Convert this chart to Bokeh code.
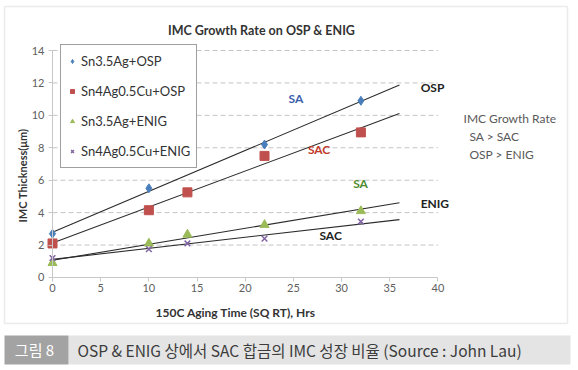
import numpy as np
from bokeh.plotting import figure
from bokeh.models import Range1d, FixedTicker, Label, BoxAnnotation, Legend, LegendItem
from bokeh.embed import file_html
from bokeh.resources import INLINE

# ---------------- data ----------------
title_text = "IMC Growth Rate on OSP & ENIG"
x_title = "150C Aging Time (SQ RT), Hrs"
y_title = "IMC Thickness(μm)"

series_names = ["Sn3.5Ag+OSP", "Sn4Ag0.5Cu+OSP", "Sn3.5Ag+ENIG", "Sn4Ag0.5Cu+ENIG"]
sa_osp_x = [0, 10, 22, 32]
sa_osp_y = [2.7, 5.5, 8.2, 10.9]
sac_osp_x = [0, 10, 14, 22, 32]
sac_osp_y = [2.1, 4.15, 5.25, 7.5, 8.95]
sa_enig_x = [0, 10, 14, 22, 32]
sa_enig_y = [0.9, 2.1, 2.65, 3.25, 4.1]
sac_enig_x = [0, 10, 14, 22, 32]
sac_enig_y = [1.2, 1.75, 2.1, 2.4, 3.45]
trend_start = 0
trend_end = 36

x_ticks = [0, 5, 10, 15, 20, 25, 30, 35, 40]
y_ticks = [0, 2, 4, 6, 8, 10, 12, 14]
grid_levels = [2, 4, 6, 8, 10, 12, 14]

line_labels = ["OSP", "ENIG", "SAC"]
side_notes = ["IMC Growth Rate", "SA > SAC", "OSP > ENIG"]
caption_tag = "그림 8"
caption_text = "OSP & ENIG 상에서 SAC 합금의 IMC 성장 비율 (Source : John Lau)"

# ---------------- figure ----------------
FONT = "Lato"
p = figure(width=578, height=370, output_backend="svg", toolbar_location=None,
           x_range=Range1d(-5.396, 54.58), y_range=Range1d(-5.736, 17.084),
           min_border=0)
p.outline_line_color = None
p.background_fill_color = "white"
p.border_fill_color = "white"
p.xgrid.visible = False
p.ygrid.visible = False

# axes (drawn at x = 0 / y = 0 inside the frame)
xa = p.xaxis[0]
xa.fixed_location = 0
xa.ticker = FixedTicker(ticks=x_ticks)
xa.bounds = (0, 40)
xa.axis_line_color = "#c8c8c8"
xa.major_tick_line_color = "#c8c8c8"
xa.major_tick_out = 4
xa.major_tick_in = 0
xa.minor_tick_line_color = None
xa.major_label_text_font = FONT
xa.major_label_text_font_size = "11px"
xa.major_label_text_color = "#606060"
xa.major_label_standoff = 3

ya = p.yaxis[0]
ya.fixed_location = 0
ya.ticker = FixedTicker(ticks=y_ticks)
ya.bounds = (0, 14)
ya.axis_line_color = "#c8c8c8"
ya.major_tick_line_color = "#c8c8c8"
ya.major_tick_out = 4
ya.major_tick_in = 0
ya.minor_tick_line_color = None
ya.major_label_text_font = FONT
ya.major_label_text_font_size = "11px"
ya.major_label_text_color = "#606060"
ya.major_label_standoff = 4

# dashed horizontal grid lines up to x = 40
p.segment(x0=[x_ticks[0]] * len(grid_levels), y0=grid_levels,
          x1=[x_ticks[-1]] * len(grid_levels), y1=grid_levels,
          line_color="#c4c4c4", line_width=1, line_dash="5 3")

# trend lines (least-squares fits)
tx = np.array([trend_start, trend_end], dtype=float)
for xs, ys in [(sa_osp_x, sa_osp_y), (sac_osp_x, sac_osp_y), (sa_enig_x, sa_enig_y), (sac_enig_x, sac_enig_y)]:
    k, b = np.polyfit(xs, ys, 1)
    p.line(tx, k * tx + b, line_color="#2b2b2b", line_width=1.1)

r1 = p.scatter(sa_osp_x, sa_osp_y, marker="diamond", size=9, fill_color="#4a7ebb", line_color="#4a7ebb")
r2 = p.scatter(sac_osp_x, sac_osp_y, marker="square", size=9, fill_color="#c0504d", line_color="#c0504d")
r3 = p.scatter(sa_enig_x, sa_enig_y, marker="triangle", size=9, fill_color="#9bbb59", line_color="#9bbb59")
r4 = p.scatter(sac_enig_x, sac_enig_y, marker="x", size=8, line_color="#8064a2", line_width=1.5)

legend = Legend(items=[LegendItem(label=series_names[i], renderers=[r]) for i, r in enumerate([r1, r2, r3, r4])],
                location=(60, 202), orientation="vertical")
legend.margin = 0
legend.padding = 6
legend.spacing = 10
legend.glyph_height = 20
legend.glyph_width = 10
legend.label_height = 20
legend.label_standoff = 4
legend.label_text_font = FONT
legend.label_text_font_size = "13px"
legend.label_text_color = "#333333"
legend.border_line_color = "#404040"
legend.border_line_width = 1
legend.background_fill_color = "white"
legend.background_fill_alpha = 1
p.add_layout(legend, "center")

def lab(text, x, y, size="12px", color="#222222", style="normal", align="left", angle=0, font=FONT):
    p.add_layout(Label(x=x, y=y, text=text, text_font=font, text_font_size=size,
                       text_color=color, text_font_style=style, text_align=align,
                       text_baseline="middle", angle=angle))

# chart border
p.add_layout(BoxAnnotation(left=-4.98, right=53.44, top=16.71, bottom=-2.84,
                           fill_alpha=0, line_color="#bdbdbd", line_width=1.5, level="underlay"))

# title and axis titles
lab(title_text, 21.7, 15.23, size="12.5px", color="#333333", style="bold", align="center")
lab(x_title, 19.0, -2.16, size="12px", color="#333333", style="bold", align="center")
lab(y_title, -3.11, 6.29, size="11px", color="#333333", style="bold", align="center", angle=np.pi / 2)

# line annotations
lab(line_labels[0], 38.2, 11.72, size="12px", color="#222222", style="bold")
lab(line_labels[1], 38.2, 4.56, size="12px", color="#222222", style="bold")
lab(line_labels[2], 27.7, 2.59, size="12px", color="#222222", style="bold")
lab("SA", 24.5, 11.04, size="12px", color="#3b5fae", style="bold")
lab("SAC", 26.5, 7.9, size="12px", color="#c0392b", style="bold")
lab("SA", 31.2, 5.8, size="12px", color="#4e8a2e", style="bold")

# side notes
lab(side_notes[0], 42.65, 9.8, size="12px", color="#595959")
lab(side_notes[1], 43.27, 8.7, size="12px", color="#595959")
lab(side_notes[2], 43.27, 7.59, size="12px", color="#595959")

# caption bar
p.add_layout(BoxAnnotation(left=1.66, right=53.75, top=-3.58, bottom=-5.37,
                           fill_color="#e4e4e4", fill_alpha=1, line_color=None))
p.add_layout(BoxAnnotation(left=-4.98, right=1.66, top=-3.58, bottom=-5.37,
                           fill_color="#a3a3a3", fill_alpha=1, line_color=None))
lab(caption_tag, -1.87, -4.47, size="15px", color="white", align="center", font="Noto Sans CJK KR")
lab(caption_text, 2.59, -4.47, size="15.5px", color="#3c3c3c", font="Noto Sans CJK KR")

open("out.html", "w").write(file_html(p, INLINE))
